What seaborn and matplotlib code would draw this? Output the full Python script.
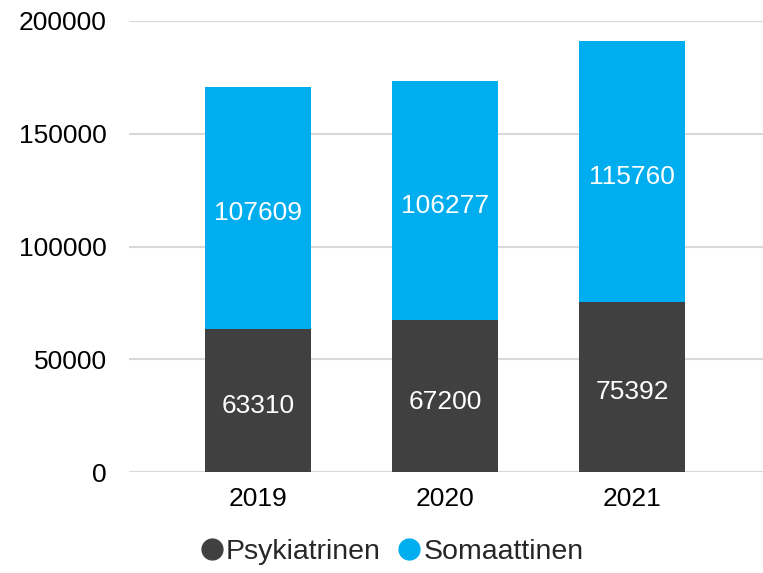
import matplotlib
matplotlib.use("Agg")
import matplotlib.pyplot as plt
import matplotlib.transforms as mtransforms
from matplotlib.lines import Line2D
import seaborn as sns
import pandas as pd

years = ["2019", "2020", "2021"]
psykiatrinen = [63310, 67200, 75392]
somaattinen = [107609, 106277, 115760]
y_ticks = [0, 50000, 100000, 150000, 200000]

dark = "#404040"
blue = "#00AEEF"

sns.set_theme(style="white")
plt.rcParams["font.family"] = ["Liberation Sans", "DejaVu Sans"]

df = pd.DataFrame({
    "year": years,
    "psyk": psykiatrinen,
    "soma": somaattinen,
})
df["total"] = df["psyk"] + df["soma"]

fig = plt.figure(figsize=(7.63, 5.73), dpi=100)
ax = fig.add_axes([129 / 763, 101 / 573, 1 - 129 / 763, (472 - 21) / 573])

# stacked bars: total in blue underneath, psychiatric share on top from zero
sns.barplot(data=df, x="year", y="total", color=blue, width=0.57,
            saturation=1, linewidth=0, ax=ax, zorder=2)
sns.barplot(data=df, x="year", y="psyk", color=dark, width=0.57,
            saturation=1, linewidth=0, ax=ax, zorder=3)

# value labels sit in the middle of each segment, nudged slightly down
label_tf = mtransforms.offset_copy(ax.transData, fig=fig, x=0, y=-3,
                                   units="dots")
for i, (p, s) in enumerate(zip(psykiatrinen, somaattinen)):
    ax.text(i, p / 2, f"{p}", ha="center", va="center_baseline",
            color="white", fontsize=19, zorder=4, transform=label_tf)
    ax.text(i, p + s / 2, f"{s}", ha="center", va="center_baseline",
            color="white", fontsize=19, zorder=4, transform=label_tf)

ax.set_xlim(-0.69, 2.70)
ax.set_ylim(0, 200000)
ax.set_yticks(y_ticks)
ax.set_yticklabels([str(v) for v in y_ticks])
ax.yaxis.grid(True, color="#d9d9d9", linewidth=1.5, zorder=0)
ax.set_axisbelow(True)
for side in ["top", "right", "left", "bottom"]:
    ax.spines[side].set_visible(False)
ax.tick_params(axis="y", length=0, pad=16, labelsize=19, labelcolor="black")
ax.tick_params(axis="x", length=0, pad=11, labelsize=19, labelcolor="black")
ax.set_xlabel("")
ax.set_ylabel("")

handles = [
    Line2D([], [], marker="o", linestyle="", markersize=15,
           markerfacecolor=dark, markeredgecolor=dark),
    Line2D([], [], marker="o", linestyle="", markersize=15,
           markerfacecolor=blue, markeredgecolor=blue),
]
fig.legend(handles, ["Psykiatrinen", "Somaattinen"], loc="center",
           bbox_to_anchor=(0.512, 1 - 552 / 573), ncol=2, frameon=False,
           fontsize=20.5, handletextpad=0.0, columnspacing=0.5,
           handlelength=1.0)

fig.savefig("out.png", dpi=100)
